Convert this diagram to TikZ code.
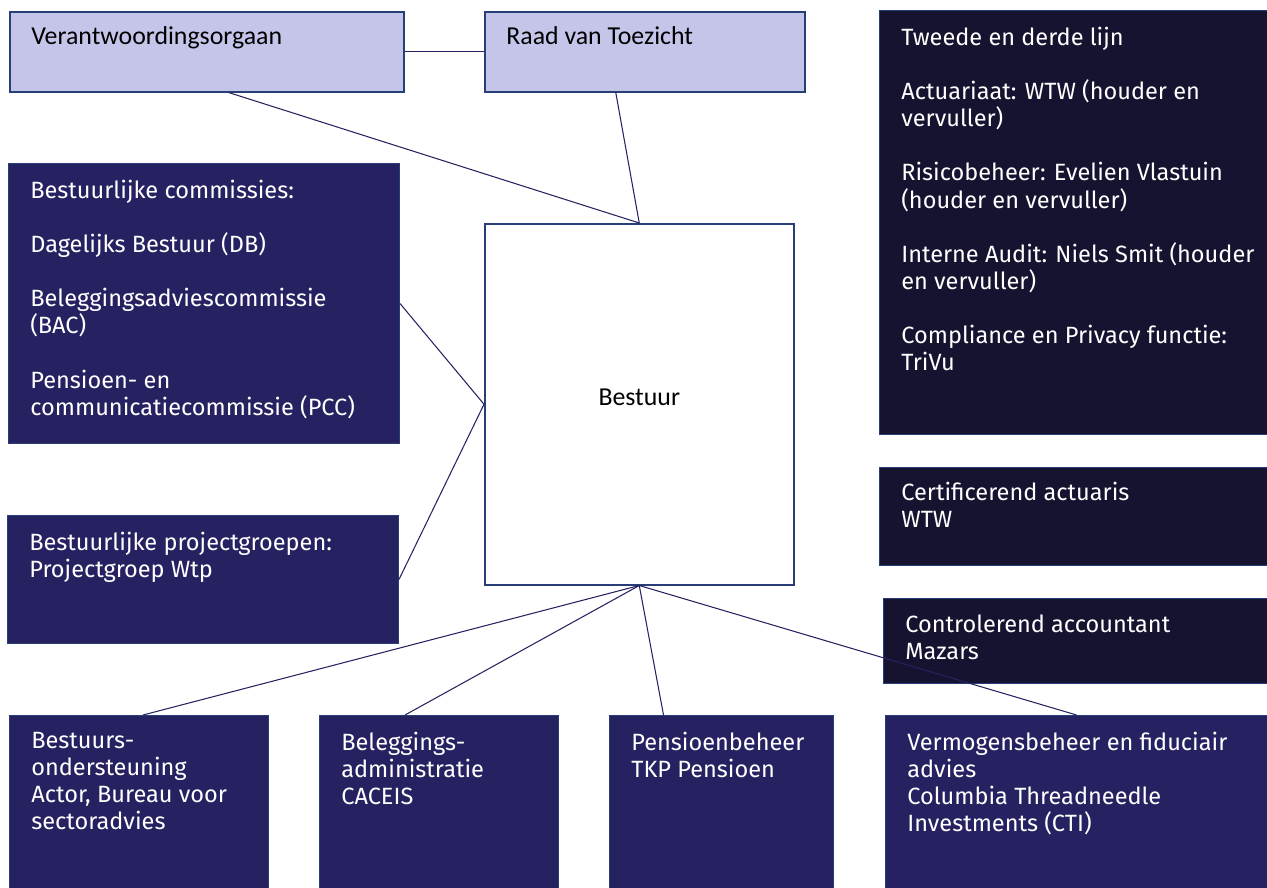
\documentclass[tikz,border=0pt]{standalone}
\usepackage{fontspec}
\usepackage{xcolor}
\setmainfont{Carlito}
\newfontfamily\boxfont{Fira Sans}
\definecolor{lavender}{RGB}{197,197,234}
\definecolor{navy}{RGB}{38,34,98}
\definecolor{night}{RGB}{21,19,47}
\definecolor{edgeblue}{RGB}{40,62,118}
\definecolor{linkblue}{RGB}{38,34,98}

\begin{document}
\begin{tikzpicture}[x=0.02cm,y=-0.02cm,
    box/.style={rectangle,anchor=north west,inner sep=0pt,line width=0.6pt},
    lightbox/.style={box,fill=lavender,draw=edgeblue,line width=0.9pt},
    darkbox/.style={box,fill=navy,draw=edgeblue},
    nightbox/.style={box,fill=night,draw=edgeblue},
    lighttext/.style={anchor=north west,inner sep=0pt,align=left,font=\fontsize{14.7}{17}\selectfont},
    darktext/.style={anchor=north west,inner sep=0pt,align=left,text=white,font=\boxfont\fontsize{13.4}{15.4}\selectfont},
    link/.style={draw=linkblue,line width=0.6pt}]
                \useasboundingbox (0,0) rectangle (1267,888);

                % Toezicht en verantwoording
                \node[lightbox,minimum width=7.88cm,minimum height=1.6cm] (vo) at (9,11) {};
                \node[lighttext] (votext) at ([xshift=0.44cm,yshift=-0.3cm]vo.north west) {Verantwoordingsorgaan};
                \node[lightbox,minimum width=6.4cm,minimum height=1.6cm] (rvt) at (484,11) {};
                \node[lighttext] (rvttext) at ([xshift=0.44cm,yshift=-0.3cm]rvt.north west) {Raad van Toezicht};

                % Bestuur
                \node[box,fill=white,draw=edgeblue,line width=0.9pt,minimum width=6.18cm,minimum height=7.22cm,
                    text depth=0.28cm,font=\fontsize{14.7}{17}\selectfont] (bestuur) at (484,223) {Bestuur};

                % Commissies en projectgroepen
                \node[darkbox,minimum width=7.82cm,minimum height=5.6cm] (comm) at (8,163) {};
                \node[darktext] (commtext) at ([xshift=0.44cm,yshift=-0.34cm]comm.north west)
                    {Bestuurlijke commissies:\\[15.4pt]
                     Dagelijks Bestuur (DB)\\[15.4pt]
                     Beleggingsadviescommissie\\
                     (BAC)\\[15.4pt]
                     Pensioen- en\\
                     communicatiecommissie (PCC)};
                \node[darkbox,minimum width=7.82cm,minimum height=2.56cm] (proj) at (7,515) {};
                \node[darktext] (projtext) at ([xshift=0.44cm,yshift=-0.34cm]proj.north west)
                    {Bestuurlijke projectgroepen:\\
                     Projectgroep Wtp};

                % Tweede en derde lijn, actuaris, accountant
                \node[nightbox,minimum width=8cm,minimum height=8.48cm] (lijn) at (879,10) {};
                \node[darktext] (lijntext) at ([xshift=0.44cm,yshift=-0.34cm]lijn.north west)
                    {Tweede en derde lijn\\[15.4pt]
                     Actuariaat: WTW (houder en\\
                     vervuller)\\[15.4pt]
                     Risicobeheer: Evelien Vlastuin\\
                     (houder en vervuller)\\[15.4pt]
                     Interne Audit: Niels Smit (houder\\
                     en vervuller)\\[15.4pt]
                     Compliance en Privacy functie:\\
                     TriVu};
                \node[nightbox,minimum width=8cm,minimum height=1.96cm] (cert) at (879,467) {};
                \node[darktext] (certtext) at ([xshift=0.44cm,yshift=-0.3cm]cert.north west)
                    {Certificerend actuaris\\
                     WTW};
                \node[nightbox,minimum width=8cm,minimum height=1.7cm] (ctrl) at (883,598) {};
                \node[darktext] (ctrltext) at ([xshift=0.44cm,yshift=-0.32cm]ctrl.north west)
                    {Controlerend accountant\\
                     Mazars};

                % Uitbesteding
                \node[darkbox,minimum width=5.18cm,minimum height=3.8cm] (steun) at (9,715) {};
                \node[darktext] (steuntext) at ([xshift=0.44cm,yshift=-0.34cm]steun.north west)
                    {Bestuurs-\\
                     ondersteuning\\
                     Actor, Bureau voor\\
                     sectoradvies};
                \node[darkbox,minimum width=4.78cm,minimum height=3.8cm] (admin) at (319,715) {};
                \node[darktext] (admintext) at ([xshift=0.44cm,yshift=-0.34cm]admin.north west)
                    {Beleggings-\\
                     administratie\\
                     CACEIS};
                \node[darkbox,minimum width=4.48cm,minimum height=3.8cm] (pens) at (609,715) {};
                \node[darktext] (penstext) at ([xshift=0.44cm,yshift=-0.34cm]pens.north west)
                    {Pensioenbeheer\\
                     TKP Pensioen};
                \node[darkbox,minimum width=8cm,minimum height=3.8cm] (verm) at (885,715) {};
                \node[darktext] (vermtext) at ([xshift=0.44cm,yshift=-0.34cm]verm.north west)
                    {Vermogensbeheer en fiduciair\\
                     advies\\
                     Columbia Threadneedle\\
                     Investments (CTI)};

                % Lijnen
                \draw[link] (vo.east) -- (rvt.west);
                \draw[link] ([xshift=0.44cm]vo.south) -- (bestuur.north);
                \draw[link] ([xshift=-0.58cm]rvt.south) -- (bestuur.north);
                \draw[link] (comm.east) -- (bestuur.west);
                \draw[link] (proj.east) -- (bestuur.west);
                \draw[link] (bestuur.south) -- ([xshift=0.08cm]steun.north);
                \draw[link] (bestuur.south) -- ([xshift=-0.68cm]admin.north);
                \draw[link] (bestuur.south) -- ([xshift=-1.16cm]pens.north);
                \draw[link] (bestuur.south) -- ([xshift=-0.18cm]verm.north);
            \end{tikzpicture}
\end{document}
